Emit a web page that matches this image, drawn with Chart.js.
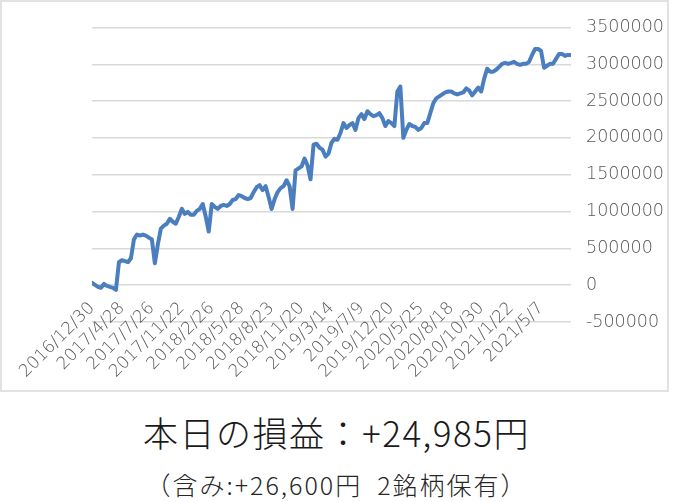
<!DOCTYPE html>
<html>
<head>
<meta charset="utf-8">
<script src="https://cdn.jsdelivr.net/npm/chart.js@4/dist/chart.umd.min.js"></script>
<style>
  html, body { margin: 0; padding: 0; background: #fff; width: 673px; height: 502px; overflow: hidden; }
  #box { position: absolute; left: 0; top: 0; width: 669px; height: 392px; box-sizing: border-box; border: 2px solid #e2e2e2; }
  #c { display: block; }
  .t1 { position: absolute; left: 0; width: 673px; text-align: center; top: 409px; font-family: "Noto Sans CJK JP", sans-serif; font-weight: 300; font-size: 35px; letter-spacing: 1.5px; color: #1a1a1a; line-height: 46px; }
  .t2 { position: absolute; left: 0; width: 673px; text-align: center; top: 467px; font-family: "Noto Sans CJK JP", sans-serif; font-weight: 300; font-size: 25px; letter-spacing: 2px; color: #262626; line-height: 34px; }
</style>
</head>
<body>
<div id="box"><canvas id="c" width="665" height="388"></canvas></div>
<div class="t1">本日の損益：+24,985円</div>
<div class="t2">（含み:+26,600円&nbsp;&nbsp;2銘柄保有）</div>
<script>
// Category tick labels (one label every 10 data points)
const tickLabels = ["2016/12/30","2017/4/28","2017/7/26","2017/11/22","2018/2/26","2018/5/28","2018/8/23","2018/11/20","2019/3/14","2019/7/9","2019/12/20","2020/5/25","2020/8/18","2020/10/30","2021/1/22","2021/5/7"];
const pointsPerLabel = 10;

// Cumulative profit/loss (yen)
const pnlValues = [
  31000, 4000, -23000, -36000, 17000, -9000, -23000, -36000, -63000, 312000,
  339000, 326000, 312000, 366000, 621000, 688000, 674000, 688000, 674000, 647000,
  621000, 299000, 554000, 768000, 808000, 835000, 902000, 862000, 835000, 929000,
  1036000, 969000, 996000, 956000, 956000, 1009000, 1036000, 1103000, 929000, 728000,
  1103000, 1063000, 1036000, 1076000, 1090000, 1076000, 1103000, 1157000, 1170000, 1224000,
  1210000, 1184000, 1170000, 1184000, 1264000, 1331000, 1358000, 1291000, 1345000, 1197000,
  1036000, 1170000, 1264000, 1318000, 1345000, 1425000, 1345000, 1036000, 1559000, 1586000,
  1613000, 1720000, 1626000, 1438000, 1908000, 1921000, 1867000, 1841000, 1747000, 1787000,
  1934000, 1988000, 1975000, 2068000, 2202000, 2135000, 2176000, 2202000, 2109000, 2269000,
  2323000, 2256000, 2363000, 2323000, 2296000, 2310000, 2336000, 2269000, 2162000, 2229000,
  2202000, 2162000, 2631000, 2698000, 2001000, 2109000, 2189000, 2162000, 2149000, 2109000,
  2135000, 2202000, 2202000, 2336000, 2471000, 2538000, 2564000, 2591000, 2618000, 2631000,
  2631000, 2605000, 2591000, 2605000, 2618000, 2672000, 2645000, 2578000, 2631000, 2685000,
  2631000, 2806000, 2940000, 2900000, 2900000, 2926000, 2966000, 3007000, 3020000, 3007000,
  3020000, 3034000, 3007000, 2993000, 3007000, 3007000, 3034000, 3127000, 3208000, 3208000,
  3181000, 2953000, 2980000, 3007000, 3007000, 3074000, 3141000, 3141000, 3114000, 3127000,
  3127000
];

// Value axis ticks
const yMin = -500000, yMax = 3500000, yStep = 500000;

const points = pnlValues.map((v, i) => ({ x: i, y: v }));

new Chart(document.getElementById('c'), {
  type: 'line',
  data: {
    datasets: [{
      data: points,
      borderColor: '#4a7ebf',
      borderWidth: 4,
      pointRadius: 0,
      pointHoverRadius: 0,
      tension: 0,
      borderJoinStyle: 'round',
      borderCapStyle: 'round',
      fill: false
    }]
  },
  options: {
    responsive: false,
    animation: false,
    devicePixelRatio: 1,
    layout: { padding: { left: 90, top: 22, bottom: 68, right: 0 } },
    plugins: { legend: { display: false }, tooltip: { enabled: false } },
    scales: {
      x: {
        type: 'linear',
        position: { y: 0 },
        min: 0,
        max: pnlValues.length - 1,
        grid: { display: false, drawTicks: false },
        border: { display: false },
        ticks: {
          stepSize: pointsPerLabel,
          autoSkip: false,
          minRotation: 45,
          maxRotation: 45,
          padding: 13,
          color: '#595959',
          font: { family: 'DejaVu Sans', size: 17, weight: 200 },
          callback: (v) => {
            const k = v / pointsPerLabel;
            return Number.isInteger(k) && k < tickLabels.length ? tickLabels[k] : '';
          }
        }
      },
      y: {
        position: 'right',
        min: yMin,
        max: yMax,
        afterFit: (s) => { s.width = 96; },
        grid: { color: '#d9d9d9', lineWidth: 1.5, drawTicks: false },
        border: { display: false },
        ticks: {
          stepSize: yStep,
          padding: 15,
          color: '#595959',
          font: { family: 'DejaVu Sans', size: 17.5, weight: 200 },
          callback: (v) => String(v)
        }
      }
    }
  }
});
</script>
</body>
</html>
